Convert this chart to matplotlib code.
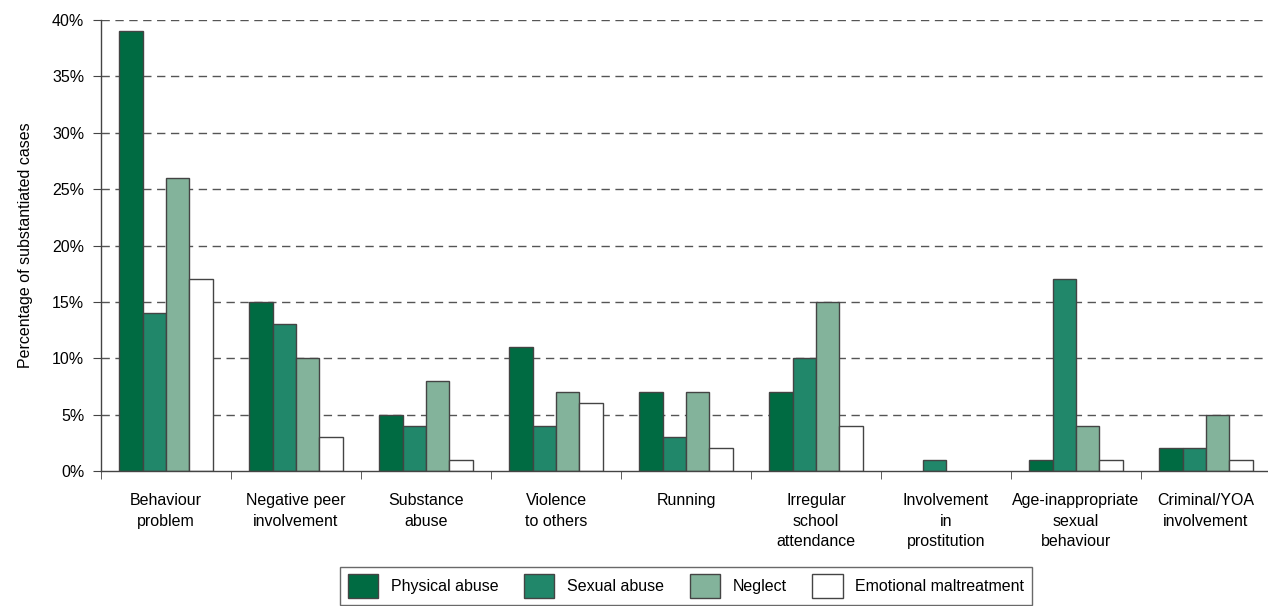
import matplotlib
matplotlib.use("Agg")
import matplotlib.pyplot as plt
import numpy as np
from matplotlib import font_manager

categories = ["Behaviour\nproblem", "Negative peer\ninvolvement", "Substance\nabuse",
              "Violence\nto others", "Running", "Irregular\nschool\nattendance",
              "Involvement\nin\nprostitution", "Age-inappropriate\nsexual\nbehaviour",
              "Criminal/YOA\ninvolvement"]
series_names = ["Physical abuse", "Sexual abuse", "Neglect", "Emotional maltreatment"]
physical = [39, 15, 5, 11, 7, 7, 0, 1, 2]
sexual = [14, 13, 4, 4, 3, 10, 1, 17, 2]
neglect = [26, 10, 8, 7, 7, 15, 0, 4, 5]
emotional = [17, 3, 1, 6, 2, 4, 0, 1, 1]
yticks = [0, 5, 10, 15, 20, 25, 30, 35, 40]

colors = ["#006b42", "#21876a", "#83b39b", "#ffffff"]

names = {f.name for f in font_manager.fontManager.ttflist}
fam = ["Liberation Sans Narrow", "DejaVu Sans"] if "Liberation Sans Narrow" in names else ["Liberation Sans", "DejaVu Sans"]
plt.rcParams['font.family'] = fam

fig = plt.figure(figsize=(12.68, 6.06), dpi=100)
ax = fig.add_axes([101/1268, 1-471/606, 1170/1268, 451/606])

x = np.arange(len(categories))
w = 0.18
data = [physical, sexual, neglect, emotional]
for i, (vals, c, n) in enumerate(zip(data, colors, series_names)):
    edges = ["#444444" if v > 0 else "none" for v in vals]
    ax.bar(x + (i - 1.5) * w, vals, width=w, color=c, edgecolor=edges, linewidth=1.0, label=n, zorder=3)

ax.set_xlim(-0.5, len(categories) - 0.5)
ax.set_ylim(0, 40)
ax.set_yticks(yticks)
ax.set_yticklabels([f"{v}%" for v in yticks], fontsize=11.5)
for v in yticks[1:]:
    ax.axhline(v, color="#555555", linestyle=(0, (6, 4)), linewidth=1.0, zorder=1)

ax.set_xticks(x)
ax.set_xticklabels(categories, fontsize=11.5, linespacing=1.45)
ax.tick_params(axis="x", length=0, pad=16)
ax.set_xticks(np.arange(len(categories) + 1) - 0.5, minor=True)
ax.tick_params(axis="x", which="minor", length=6, color="#444444", direction="out")
ax.tick_params(axis="y", length=6, color="#444444", direction="out", pad=6)

for s in ["top", "right"]:
    ax.spines[s].set_visible(False)
for s in ["left", "bottom"]:
    ax.spines[s].set_color("#444444")
    ax.spines[s].set_linewidth(1.0)
    ax.spines[s].set_zorder(4)

ax.set_ylabel("Percentage of substantiated cases", fontsize=11.5, labelpad=14)

leg = fig.legend(loc="upper center", bbox_to_anchor=(686/1268, 1-567/606), ncol=4,
                 fontsize=11.5, frameon=True, fancybox=False, edgecolor="#444444",
                 handlelength=1.9, handleheight=1.9, columnspacing=1.6, handletextpad=0.8,
                 borderpad=0.45, borderaxespad=0)
leg.get_frame().set_linewidth(1.0)

fig.savefig("out.png", dpi=100)
